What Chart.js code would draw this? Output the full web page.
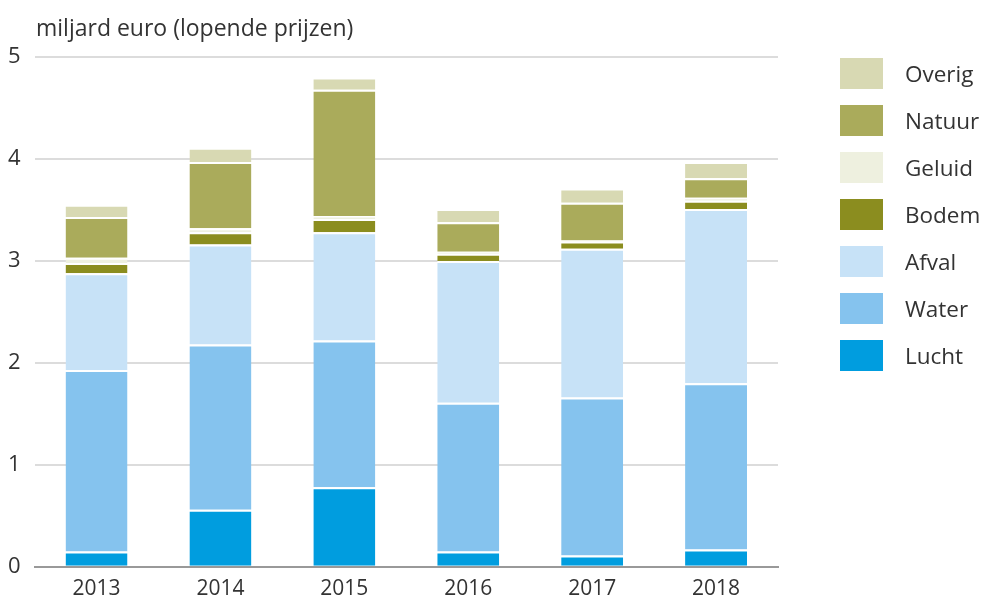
<!DOCTYPE html>
<html lang="nl">
<head>
    <meta charset="UTF-8">
    <title>Milieukosten per domein</title>
    <script src="https://cdn.jsdelivr.net/npm/chart.js"></script>
    <style>
        body { margin: 0; background: #fff; font-family: "Open Sans", sans-serif; color: #333; }
        #wrap { position: relative; width: 986px; height: 601px; overflow: hidden; }
        #unit { position: absolute; left: 36px; top: 11px; font-size: 23px; line-height: 32px; }
        #legend { position: absolute; left: 840px; top: 58px; list-style: none; margin: 0; padding: 0; }
        #legend li { height: 31px; margin-bottom: 16px; display: flex; align-items: center; font-size: 22.5px; }
        #legend span.box { width: 43px; height: 31px; margin-right: 22px; display: inline-block; }
    </style>
</head>
<body>
<div id="wrap">
    <canvas id="myChart" width="986" height="601"></canvas>
    <div id="unit">miljard euro (lopende prijzen)</div>
    <ul id="legend"></ul>
</div>

<script>
    // data (miljard euro)
    const years = ['2013', '2014', '2015', '2016', '2017', '2018'];
    const lucht  = [0.15, 0.56, 0.78, 0.15, 0.11, 0.17];
    const water  = [1.78, 1.62, 1.44, 1.46, 1.55, 1.63];
    const afval  = [0.95, 0.98, 1.06, 1.39, 1.46, 1.71];
    const bodem  = [0.10, 0.12, 0.13, 0.07, 0.07, 0.08];
    const geluid = [0.05, 0.04, 0.03, 0.02, 0.01, 0.03];
    const natuur = [0.40, 0.65, 1.24, 0.29, 0.37, 0.19];
    const overig = [0.12, 0.14, 0.12, 0.13, 0.14, 0.16];
    const yTicks = [0, 1, 2, 3, 4, 5];

    const series = [
        { label: 'Lucht',  data: lucht,  color: '#009ddf' },
        { label: 'Water',  data: water,  color: '#85c3ee' },
        { label: 'Afval',  data: afval,  color: '#c7e2f7' },
        { label: 'Bodem',  data: bodem,  color: '#8b8d1f' },
        { label: 'Geluid', data: geluid, color: '#eef0df' },
        { label: 'Natuur', data: natuur, color: '#aaab5b' },
        { label: 'Overig', data: overig, color: '#d8d9b3' }
    ];

    const chartData = {
        labels: years,
        datasets: series.map(s => ({
            label: s.label,
            data: s.data,
            backgroundColor: s.color,
            borderColor: '#ffffff',
            borderWidth: { top: 2, right: 0, bottom: 0, left: 0 },
            borderSkipped: false,
            categoryPercentage: 1,
            barPercentage: 0.5
        }))
    };

    const options = {
        responsive: false,
        animation: false,
        layout: { padding: { top: 57, left: -6, right: 208, bottom: -11 } },
        plugins: {
            legend: { display: false },
            tooltip: { enabled: false }
        },
        scales: {
            x: {
                stacked: true,
                grid: { display: false, drawTicks: false },
                border: { color: '#999999', width: 2 },
                ticks: { color: '#333', font: { family: '"Open Sans", sans-serif', size: 21 }, padding: 10 }
            },
            y: {
                stacked: true,
                min: 0,
                max: 5,
                afterBuildTicks: axis => { axis.ticks = yTicks.map(v => ({ value: v })); },
                grid: { color: '#dcdcdc', lineWidth: 2, drawTicks: false },
                border: { display: false },
                ticks: { color: '#333', font: { family: '"Open Sans", sans-serif', size: 22 }, padding: 14 }
            }
        }
    };

    const ctx = document.getElementById('myChart').getContext('2d');
    new Chart(ctx, { type: 'bar', data: chartData, options: options });

    // legend, top item is the top of the stack
    const legend = document.getElementById('legend');
    series.slice().reverse().forEach(s => {
        const li = document.createElement('li');
        li.innerHTML = '<span class="box" style="background:' + s.color + '"></span>' + s.label;
        legend.appendChild(li);
    });
</script>
</body>
</html>
